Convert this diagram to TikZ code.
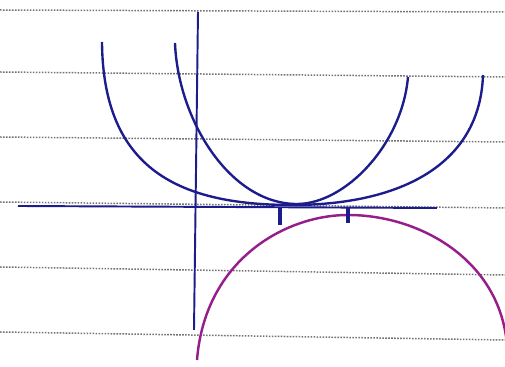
\documentclass[tikz,border=0pt]{standalone}
\usepackage{xcolor}
\usetikzlibrary{calc}

\definecolor{inkblue}{RGB}{28,28,140}
\definecolor{inkmag}{RGB}{150,30,140}

\begin{document}
\begin{tikzpicture}[
  x=0.02cm, y=-0.02cm,
  ruled/.style={black!55, line width=0.85pt, dash pattern=on 0.9pt off 0.8pt},
  axisline/.style={inkblue, line width=1.1pt},
  bowl/.style={inkblue, line width=1.35pt},
  capline/.style={inkmag, line width=1.4pt},
  tickmark/.style={inkblue, line width=1.8pt}
]
\useasboundingbox (0,0) rectangle (505,367);

% ruled paper lines
\foreach \ya/\yb in {10/12, 72/77, 137/142, 202/208, 267/275, 332/340}
  \draw[ruled] (0,\ya) -- (505,\yb);

% axes
\coordinate (xl) at (18,206);
\coordinate (xr) at (437,208);
\coordinate (yt) at (198,12);
\coordinate (yb) at (194,330);
\draw[axisline] (xl) -- (xr);
\draw[axisline] (yt) -- (yb);

% the outer bowl
\coordinate (oa) at (102,42);
\coordinate (ob) at (292,205);
\coordinate (oc) at (483,75);
\draw[bowl] (oa) .. controls (103,170) and (180,205) .. (ob)
                 .. controls (400,205) and (480,165) .. (oc);

% the inner bowl
\coordinate (ia) at (175,43);
\coordinate (ib) at (297,204);
\coordinate (ic) at (408,77);
\draw[bowl] (ia) .. controls (178,120) and (230,204) .. (ib)
                 .. controls (345,204) and (402,145) .. (ic);

% the lower cap
\coordinate (ca) at (197,360);
\coordinate (cb) at (348,215);
\coordinate (cc) at (507,345);
\draw[capline] (ca) .. controls (205,260) and (285,215) .. (cb)
                    .. controls (420,215) and (500,260) .. (cc);

% marks on the axis
\coordinate (ta) at (280,208);
\coordinate (tb) at (348,208);
\draw[tickmark] (ta) -- ++(0,17);
\draw[tickmark] (tb) -- ++(0,15);

\end{tikzpicture}
\end{document}
